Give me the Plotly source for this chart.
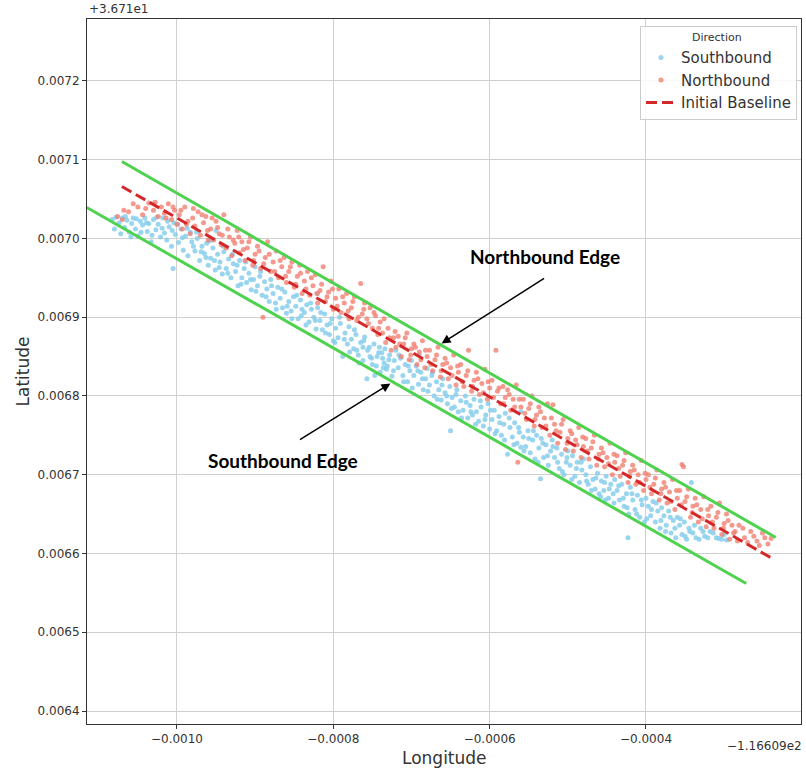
import plotly.graph_objects as go

# Offsets shown by the axes (values plotted are relative to these)
LON_OFFSET_LABEL = "\u22121.16609e2"
LAT_OFFSET_LABEL = "+3.671e1"
U = 1e-6  # values below are in micro-degrees relative to the offsets

# Southbound GPS points (lon, lat) in micro-degrees
southbound_pts = [
    (-1083, 7024), (-1078, 7027), (-1074, 7020), (-1070, 7026), (-1067, 7014), (-1064, 7023), (-1061, 7008), (-1058, 7019),
    (-1056, 7026), (-1053, 7012), (-1050, 7003), (-1047, 7022), (-1044, 7017), (-1041, 7026), (-1038, 7009),
    (-1036, 7019), (-1033, 6996), (-1030, 7024), (-1027, 7011), (-1024, 7018), (-1021, 7002), (-1018, 7026),
    (-1016, 7007), (-1013, 6998), (-1010, 7015), (-1007, 6990), (-1004, 7020), (-1002, 7005), (-1005, 6962),
    (-998, 6995), (-995, 7012), (-992, 6985), (-989, 7003), (-986, 6978), (-983, 7008), (-981, 6996),
    (-977, 6984), (-974, 7000), (-971, 6972), (-968, 6990), (-965, 6981), (-962, 6994), (-960, 6966),
    (-957, 6975), (-954, 6988), (-951, 6960), (-948, 6980), (-945, 6970), (-942, 6955), (-940, 6983), (-950, 7010),
    (-937, 6962), (-934, 6974), (-931, 6950), (-928, 6968), (-925, 6958), (-922, 6940), (-920, 6972),
    (-917, 6950), (-914, 6962), (-911, 6944), (-908, 6956), (-905, 6935), (-902, 6948), (-900, 6964),
    (-897, 6940), (-894, 6952), (-891, 6928), (-888, 6945), (-885, 6936), (-882, 6920), (-880, 6948),
    (-877, 6930), (-874, 6918), (-871, 6938), (-868, 6924), (-865, 6912), (-862, 6932), (-860, 6905),
    (-857, 6920), (-854, 6908), (-851, 6926), (-848, 6914), (-845, 6898), (-842, 6922), (-840, 6910),
    (-837, 6906), (-834, 6916), (-831, 6894), (-828, 6910), (-825, 6900), (-822, 6885), (-820, 6912), (-820, 6930),
    (-817, 6896), (-814, 6884), (-811, 6904), (-808, 6890), (-805, 6878), (-802, 6898), (-800, 6870),
    (-797, 6886), (-794, 6874), (-791, 6892), (-788, 6850), (-785, 6880), (-782, 6866), (-780, 6888),
    (-777, 6872), (-774, 6860), (-771, 6878), (-768, 6852), (-765, 6868), (-762, 6845), (-760, 6875),
    (-757, 6822), (-754, 6862), (-751, 6848), (-748, 6866), (-745, 6838), (-742, 6855), (-740, 6830),
    (-735, 6842), (-738, 6855), (-732, 6834), (-744, 6850), (-750, 6840), (-756, 6858), (-762, 6862), (-770, 6858),
    (-737, 6848), (-734, 6860), (-731, 6838), (-728, 6852), (-725, 6825), (-722, 6845), (-720, 6858),
    (-717, 6836), (-714, 6848), (-711, 6826), (-708, 6840), (-705, 6818), (-702, 6832), (-700, 6845),
    (-697, 6826), (-694, 6838), (-691, 6815), (-688, 6830), (-685, 6808), (-682, 6822), (-680, 6835), (-690, 6852),
    (-677, 6814), (-674, 6826), (-671, 6800), (-668, 6818), (-665, 6808), (-662, 6795), (-660, 6822),
    (-657, 6804), (-654, 6790), (-651, 6812), (-650, 6756), (-648, 6798), (-645, 6786), (-642, 6808), (-640, 6780),
    (-637, 6794), (-634, 6782), (-631, 6800), (-628, 6772), (-625, 6788), (-622, 6776), (-620, 6796),
    (-617, 6780), (-614, 6768), (-611, 6786), (-608, 6762), (-605, 6776), (-602, 6790), (-600, 6758),
    (-597, 6770), (-594, 6782), (-591, 6756), (-588, 6774), (-585, 6750), (-582, 6764), (-580, 6778),
    (-577, 6726), (-574, 6760), (-571, 6748), (-568, 6766), (-565, 6740), (-562, 6754), (-560, 6735), (-560, 6780),
    (-557, 6748), (-554, 6736), (-551, 6756), (-548, 6728), (-545, 6744), (-542, 6720), (-540, 6750), (-535, 6695),
    (-537, 6734), (-534, 6746), (-531, 6722), (-528, 6738), (-525, 6712), (-522, 6730), (-520, 6744),
    (-517, 6722), (-514, 6734), (-511, 6708), (-508, 6726), (-505, 6700), (-502, 6716), (-500, 6730),
    (-497, 6712), (-494, 6724), (-491, 6698), (-488, 6716), (-485, 6690), (-482, 6706), (-480, 6720),
    (-477, 6700), (-474, 6688), (-471, 6710), (-468, 6694), (-465, 6682), (-462, 6702), (-460, 6676),
    (-457, 6692), (-454, 6680), (-451, 6698), (-448, 6670), (-445, 6688), (-442, 6676), (-440, 6694), (-452, 6668),
    (-437, 6680), (-434, 6668), (-431, 6688), (-428, 6660), (-425, 6676), (-423, 6620), (-422, 6650), (-420, 6684),
    (-417, 6668), (-414, 6656), (-411, 6674), (-408, 6646), (-405, 6662), (-402, 6640), (-400, 6670),
    (-397, 6660), (-394, 6648), (-391, 6666), (-388, 6640), (-385, 6654), (-382, 6632), (-380, 6658),
    (-377, 6648), (-374, 6636), (-371, 6654), (-368, 6626), (-365, 6642), (-362, 6620), (-360, 6646),
    (-357, 6636), (-354, 6624), (-351, 6640), (-348, 6618), (-345, 6632), (-342, 6690), (-340, 6626),
    (-336, 6620), (-330, 6632), (-325, 6622), (-318, 6628), (-310, 6620), (-303, 6618), (-297, 6617),
    (-1080, 7012), (-1072, 7006), (-1066, 7028), (-1059, 7002), (-1052, 7025), (-1046, 7008), (-1039, 7020),
    (-1032, 7004), (-1026, 7027), (-1019, 7013), (-1012, 7022), (-1006, 7010), (-999, 7018), (-993, 7001),
    (-987, 7013), (-979, 6990), (-975, 7008), (-969, 6983), (-963, 6976), (-958, 6997), (-952, 6972),
    (-946, 6963), (-941, 6990), (-935, 6956), (-929, 6980), (-923, 6966), (-918, 6942), (-912, 6970),
    (-906, 6948), (-899, 6933), (-893, 6958), (-886, 6926), (-879, 6940), (-873, 6910), (-866, 6936),
    (-859, 6914), (-853, 6898), (-847, 6928), (-841, 6902), (-835, 6890), (-829, 6918), (-823, 6896),
    (-816, 6906), (-810, 6880), (-804, 6892), (-798, 6868), (-792, 6900), (-786, 6872), (-779, 6856),
    (-773, 6884), (-767, 6842), (-761, 6870), (-753, 6850), (-747, 6826), (-741, 6862), (-736, 6836),
    (-729, 6846), (-723, 6832), (-716, 6852), (-710, 6818), (-704, 6838), (-699, 6810), (-692, 6832),
    (-686, 6822), (-679, 6806), (-673, 6830), (-667, 6796), (-661, 6814), (-655, 6800), (-649, 6784),
    (-643, 6802), (-636, 6772), (-630, 6792), (-624, 6780), (-618, 6764), (-612, 6794), (-606, 6770),
    (-599, 6782), (-593, 6752), (-587, 6766), (-581, 6744), (-575, 6772), (-569, 6738), (-563, 6760),
    (-556, 6730), (-550, 6746), (-544, 6756), (-538, 6716), (-532, 6740), (-526, 6724), (-519, 6736),
    (-513, 6716), (-507, 6704), (-501, 6722), (-495, 6694), (-489, 6708), (-483, 6716), (-476, 6692),
    (-470, 6680), (-464, 6696), (-458, 6672), (-453, 6690), (-447, 6682), (-441, 6664), (-435, 6686),
    (-429, 6670), (-424, 6658), (-418, 6676), (-412, 6650), (-406, 6668), (-399, 6644), (-393, 6656),
    (-387, 6664), (-381, 6642), (-375, 6628), (-369, 6646), (-363, 6632), (-356, 6644), (-350, 6622),
    (-344, 6628), (-338, 6636), (-332, 6618), (-327, 6628), (-321, 6620), (-314, 6626), (-307, 6619), (-300, 6624),
]

# Northbound GPS points (lon, lat) in micro-degrees
northbound_pts = [
    (-1076, 7028), (-1070, 7024), (-1062, 7034), (-1050, 7040), (-1044, 7030),
    (-1036, 7045), (-1030, 7036), (-1024, 7028), (-1020, 7040),
    (-1016, 7032), (-1011, 7044), (-1007, 7024), (-1003, 7036), (-1000, 7018),
    (-997, 7030), (-993, 7012), (-990, 7040), (-986, 7022), (-983, 7006), (-980, 7026),
    (-977, 7016), (-973, 7034), (-970, 7004), (-966, 7020), (-963, 7028), (-960, 6998),
    (-957, 7012), (-953, 6998), (-950, 7022), (-946, 7006), (-943, 6992), (-940, 7030),
    (-937, 6988), (-933, 7002), (-930, 6978), (-926, 6994), (-923, 7010), (-920, 6982),
    (-917, 6996), (-913, 6972), (-910, 6988), (-906, 7002), (-903, 6966), (-900, 6980),
    (-897, 6990), (-893, 6962), (-890, 6900), (-887, 6976), (-884, 6996), (-880, 6958),
    (-877, 6970), (-873, 6984), (-870, 6950), (-866, 6964), (-863, 6976), (-860, 6944),
    (-857, 6958), (-853, 6970), (-850, 6938), (-846, 6952), (-843, 6966), (-840, 6930),
    (-837, 6946), (-833, 6958), (-830, 6928), (-826, 6940), (-823, 6954), (-820, 6918),
    (-817, 6934), (-813, 6964), (-810, 6920), (-806, 6932), (-803, 6946), (-800, 6910),
    (-797, 6924), (-793, 6936), (-790, 6906), (-786, 6918), (-783, 6930), (-780, 6898),
    (-777, 6912), (-773, 6926), (-770, 6896), (-765, 6943), (-763, 6904), (-760, 6918),
    (-757, 6898), (-753, 6912), (-750, 6886), (-746, 6902), (-743, 6878), (-740, 6894),
    (-737, 6880), (-733, 6868), (-730, 6886), (-726, 6858), (-723, 6874), (-720, 6862),
    (-717, 6876), (-713, 6850), (-710, 6866), (-706, 6880), (-703, 6846), (-700, 6860),
    (-697, 6866), (-693, 6840), (-690, 6856), (-686, 6870), (-683, 6836), (-680, 6850),
    (-677, 6858), (-673, 6832), (-670, 6846), (-666, 6862), (-663, 6824), (-660, 6840),
    (-657, 6848), (-653, 6822), (-650, 6836), (-646, 6852), (-643, 6814), (-640, 6830),
    (-637, 6840), (-633, 6812), (-630, 6826), (-627, 6858), (-623, 6806), (-620, 6820),
    (-617, 6830), (-613, 6802), (-610, 6816), (-606, 6834), (-603, 6796), (-600, 6810),
    (-597, 6820), (-592, 6858), (-590, 6806), (-586, 6790), (-583, 6812), (-580, 6798),
    (-577, 6808), (-573, 6782), (-570, 6796), (-566, 6814), (-564, 6716), (-560, 6786),
    (-557, 6796), (-553, 6770), (-550, 6784), (-546, 6800), (-543, 6762), (-540, 6776),
    (-537, 6786), (-533, 6760), (-530, 6772), (-526, 6790), (-523, 6750), (-519, 6789),
    (-517, 6764), (-513, 6740), (-510, 6754), (-506, 6770), (-503, 6732), (-500, 6746),
    (-497, 6756), (-493, 6730), (-490, 6744), (-486, 6760), (-483, 6722), (-480, 6736),
    (-477, 6746), (-473, 6720), (-470, 6734), (-466, 6750), (-463, 6712), (-460, 6726),
    (-457, 6734), (-453, 6710), (-450, 6722), (-446, 6740), (-443, 6700), (-440, 6716),
    (-437, 6724), (-433, 6698), (-430, 6712), (-426, 6728), (-423, 6690), (-420, 6704),
    (-417, 6712), (-413, 6688), (-410, 6700), (-406, 6718), (-403, 6680), (-400, 6694),
    (-397, 6700), (-393, 6676), (-390, 6688), (-386, 6706), (-383, 6668), (-380, 6682),
    (-377, 6690), (-373, 6664), (-370, 6678), (-366, 6694), (-363, 6656), (-360, 6670),
    (-357, 6680), (-354, 6713), (-352, 6710), (-350, 6666), (-346, 6682), (-343, 6646), (-340, 6660),
    (-337, 6670), (-333, 6640), (-330, 6656), (-326, 6672), (-323, 6634), (-320, 6648),
    (-317, 6660), (-313, 6632), (-310, 6646), (-306, 6664), (-303, 6624), (-300, 6638),
    (-297, 6650), (-293, 6618), (-290, 6636), (-286, 6628), (-283, 6616),
    (-276, 6632), (-270, 6614), (-262, 6622), (-255, 6610), (-248, 6620), (-240, 6619),
    (-1068, 7036), (-1056, 7044), (-1040, 7038), (-1028, 7046), (-1014, 7026), (-1005, 7040), (-995, 7036),
    (-988, 7018), (-979, 7038), (-968, 7030), (-961, 7010), (-955, 7026), (-948, 7014), (-942, 7004),
    (-935, 7012), (-928, 6998), (-921, 7002), (-915, 6986), (-908, 6996), (-902, 6972), (-895, 6984),
    (-889, 6968), (-882, 6980), (-875, 6958), (-868, 6972), (-861, 6952), (-855, 6964), (-848, 6942),
    (-842, 6956), (-835, 6936), (-828, 6950), (-821, 6930), (-815, 6942), (-808, 6926), (-801, 6936),
    (-795, 6914), (-788, 6926), (-781, 6908), (-775, 6920), (-768, 6900), (-761, 6910), (-755, 6892),
    (-748, 6906), (-742, 6886), (-735, 6898), (-728, 6874), (-721, 6882), (-715, 6866), (-708, 6874),
    (-701, 6852), (-695, 6862), (-688, 6846), (-682, 6858), (-675, 6840), (-668, 6852), (-662, 6832),
    (-655, 6842), (-648, 6826), (-641, 6838), (-635, 6818), (-628, 6832), (-622, 6812), (-615, 6822),
    (-608, 6804), (-602, 6818), (-595, 6798), (-588, 6810), (-582, 6790), (-575, 6802), (-568, 6786),
    (-562, 6796), (-555, 6778), (-548, 6790), (-542, 6770), (-535, 6780), (-528, 6762), (-521, 6772),
    (-515, 6756), (-508, 6764), (-501, 6740), (-495, 6752), (-488, 6738), (-481, 6748), (-475, 6730),
    (-468, 6742), (-461, 6720), (-455, 6728), (-448, 6714), (-441, 6726), (-435, 6708), (-428, 6718),
    (-421, 6698), (-415, 6706), (-408, 6690), (-401, 6702), (-395, 6684), (-388, 6696), (-381, 6676),
    (-375, 6684), (-368, 6666), (-361, 6680), (-355, 6662), (-348, 6672), (-341, 6652), (-335, 6662),
    (-328, 6644), (-321, 6656), (-315, 6640), (-308, 6652), (-301, 6632), (-295, 6642), (-288, 6626),
    (-281, 6636), (-274, 6620), (-266, 6628), (-258, 6616), (-251, 6626), (-244, 6612),
]

# Reference lines (endpoints, micro-degrees)
baseline_lon = [-1070.5, -238.5]
baseline_lat = [7066.0, 6593.7]
nb_edge_lon = [-1070.5, -234.0]
nb_edge_lat = [7097.8, 6620.3]
sb_edge_lon = [-1115.4, -271.8]
sb_edge_lat = [7039.4, 6561.9]

x_ticks = [-1000, -800, -600, -400]
y_ticks = [6400, 6500, 6600, 6700, 6800, 6900, 7000, 7100, 7200]


def sc(v):
    return [a * U for a in v]


sb_lon = sc([p[0] for p in southbound_pts])
sb_lat = sc([p[1] for p in southbound_pts])
nb_lon = sc([p[0] for p in northbound_pts])
nb_lat = sc([p[1] for p in northbound_pts])

fig = go.Figure()
fig.add_trace(go.Scatter(
    x=sb_lon, y=sb_lat, mode="markers", name="Southbound",
    marker=dict(size=5, color="rgba(135,206,235,0.85)", line=dict(width=0)),
))
fig.add_trace(go.Scatter(
    x=nb_lon, y=nb_lat, mode="markers", name="Northbound",
    marker=dict(size=5, color="rgba(240,128,114,0.8)", line=dict(width=0)),
))
fig.add_trace(go.Scatter(
    x=sc(baseline_lon), y=sc(baseline_lat), mode="lines", name="Initial Baseline",
    line=dict(color="#d62728", width=3, dash="11px,5px"),
))
green = "#4fd24f"
fig.add_trace(go.Scatter(
    x=sc(nb_edge_lon), y=sc(nb_edge_lat), mode="lines", showlegend=False,
    line=dict(color=green, width=3),
))
fig.add_trace(go.Scatter(
    x=sc(sb_edge_lon), y=sc(sb_edge_lat), mode="lines", showlegend=False,
    line=dict(color=green, width=3),
))

ax_common = dict(
    showgrid=True, gridcolor="#d0d0d0", gridwidth=1,
    showline=True, linecolor="#333333", linewidth=1, mirror=True,
    ticks="outside", ticklen=4, tickcolor="#333333",
    tickfont=dict(family="DejaVu Sans", size=12, color="#333333"),
    zeroline=False, automargin=False,
)

fig.update_layout(
    width=806, height=771,
    margin=dict(l=87, r=5, t=19, b=47),
    paper_bgcolor="white", plot_bgcolor="white",
    font=dict(family="DejaVu Sans", color="#333333"),
    xaxis=dict(
        range=[-1115.1 * U, -201.7 * U],
        tickvals=sc(x_ticks), tickformat=".4f",
        **ax_common,
    ),
    yaxis=dict(
        range=[6383.5 * U, 7278.7 * U],
        tickvals=sc(y_ticks), tickformat=".4f",
        **ax_common,
    ),
    legend=dict(
        x=0.9944, y=0.990, xanchor="right", yanchor="top",
        bgcolor="rgba(255,255,255,0.85)", bordercolor="#cccccc", borderwidth=1,
        title=dict(text="              Direction", font=dict(size=11, color="#333333")),
        font=dict(family="DejaVu Sans", size=15, color="#333333"),
        itemwidth=30, tracegroupgap=0,
    ),
    showlegend=True,
)

# Axis titles
fig.add_annotation(
    xref="paper", yref="paper", x=0.5, y=-(758 - 724) / 705, xanchor="center", yanchor="middle",
    text="Longitude", showarrow=False, font=dict(size=17, color="#333333"),
)
fig.add_annotation(
    xref="paper", yref="paper", x=(22 - 87) / 714, y=0.5, xanchor="center", yanchor="middle",
    text="Latitude", showarrow=False, textangle=-90, font=dict(size=17, color="#333333"),
)

anno_font = dict(family="Lato", size=19, color="black")
fig.add_annotation(
    x=-661.5 * U, y=6866.7 * U, ax=104, ay=-66, text="", showarrow=True,
    arrowhead=2, arrowsize=1.2, arrowwidth=1.5, arrowcolor="black", standoff=0,
)
fig.add_annotation(
    x=-529.5 * U, y=6977.1 * U, text="<b>Northbound Edge</b>", showarrow=False, font=anno_font,
)
fig.add_annotation(
    x=-726.9 * U, y=6815.9 * U, ax=-92, ay=57, text="", showarrow=True,
    arrowhead=2, arrowsize=1.2, arrowwidth=1.5, arrowcolor="black", standoff=0,
)
fig.add_annotation(
    x=-864.1 * U, y=6718.1 * U, text="<b>Southbound Edge</b>", showarrow=False, font=anno_font,
)
fig.add_annotation(
    xref="paper", yref="paper", x=0, y=1, xanchor="left", yanchor="bottom",
    text=LAT_OFFSET_LABEL, showarrow=False, font=dict(size=12, color="#333333"), yshift=1,
)
fig.add_annotation(
    xref="paper", yref="paper", x=1, y=0, xanchor="right", yanchor="top",
    text=LON_OFFSET_LABEL, showarrow=False, font=dict(size=12, color="#333333"),
    yshift=-13, xshift=3,
)

fig.write_html(
    "out.html",
    config={"displayModeBar": False},
    post_script="document.body.style.margin='0';document.body.style.overflow='hidden';",
)
